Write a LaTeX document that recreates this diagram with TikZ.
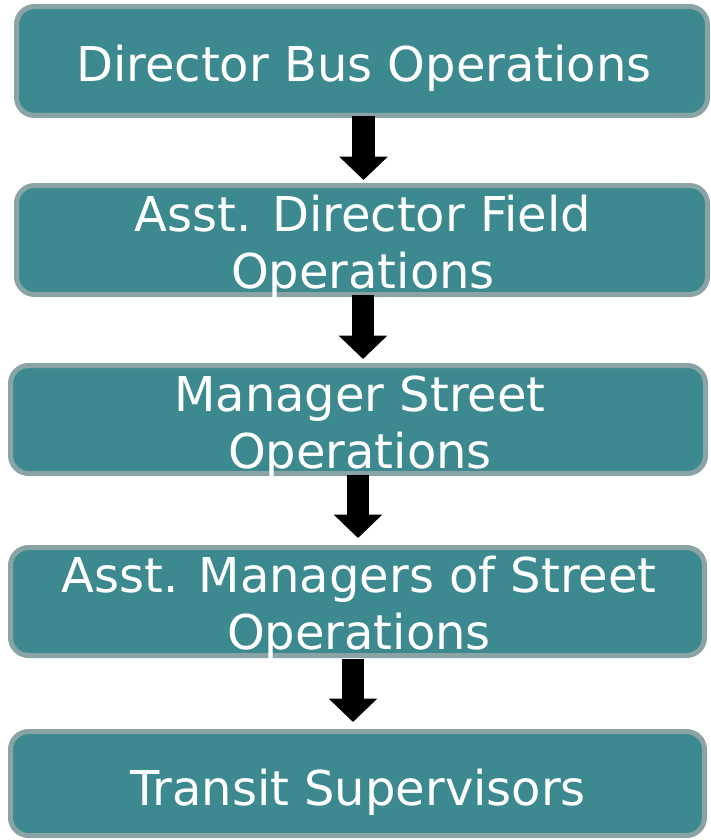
\documentclass[tikz,border=0pt]{standalone}
\usepackage{fontspec}
\setmainfont{DejaVu Sans}
\usetikzlibrary{arrows.meta}
\definecolor{boxfill}{RGB}{60,138,143}
\definecolor{boxline}{RGB}{138,164,166}
\tikzset{
  x=1pt, y=-1pt,
  orgbox/.style={draw=boxline, fill=boxfill, line width=5pt, rounded corners=18pt,
    rectangle, inner sep=0pt, minimum width=#1},
  boxtext/.style={text=white, align=center, anchor=base, inner sep=0pt,
    font=\fontsize{48}{57}\selectfont},
  flow/.style={draw=black, line width=22.5pt, line cap=butt,
    -{Triangle[width=47.5pt,length=23.5pt]}}
}
\begin{document}
\begin{tikzpicture}
  \useasboundingbox (0,0) rectangle (710,840);
  % boxes of the chain
  \node[orgbox=691pt, minimum height=109pt] (b1) at (362,61) {};
  \node[orgbox=691pt, minimum height=109pt] (b2) at (362,240) {};
  \node[orgbox=695pt, minimum height=108pt] (b3) at (358,419.5) {};
  \node[orgbox=694pt, minimum height=108pt] (b4) at (357.5,601.5) {};
  \node[orgbox=694pt, minimum height=104pt] (b5) at (357.5,783.5) {};
  % labels (base anchor sits on the last line)
  \node[boxtext] (t1) at (364,82) {Director Bus Operations};
  \node[boxtext] (t2) at (363,288) {Asst. Director Field\\Operations};
  \node[boxtext] (t3) at (360,468) {Manager Street\\Operations};
  \node[boxtext] (t4) at (359,649) {Asst. Managers of Street\\Operations};
  \node[boxtext] (t5) at (358,805) {Transit Supervisors};
  % block arrows between boxes
  \draw[flow] ([xshift=1.5pt,yshift=2pt]b1.south) -- ([xshift=1.5pt,yshift=3pt]b1.south |- b2.north);
  \draw[flow] ([xshift=1pt,yshift=2pt]b2.south) -- ([xshift=1pt,yshift=4pt]b2.south |- b3.north);
  \draw[flow] ([yshift=1pt]b3.south) -- ([yshift=7pt]b3.south |- b4.north);
  \draw[flow] ([xshift=-4.5pt,yshift=-1pt]b4.south) -- ([xshift=-4.5pt,yshift=7pt]b4.south |- b5.north);
\end{tikzpicture}
\end{document}
